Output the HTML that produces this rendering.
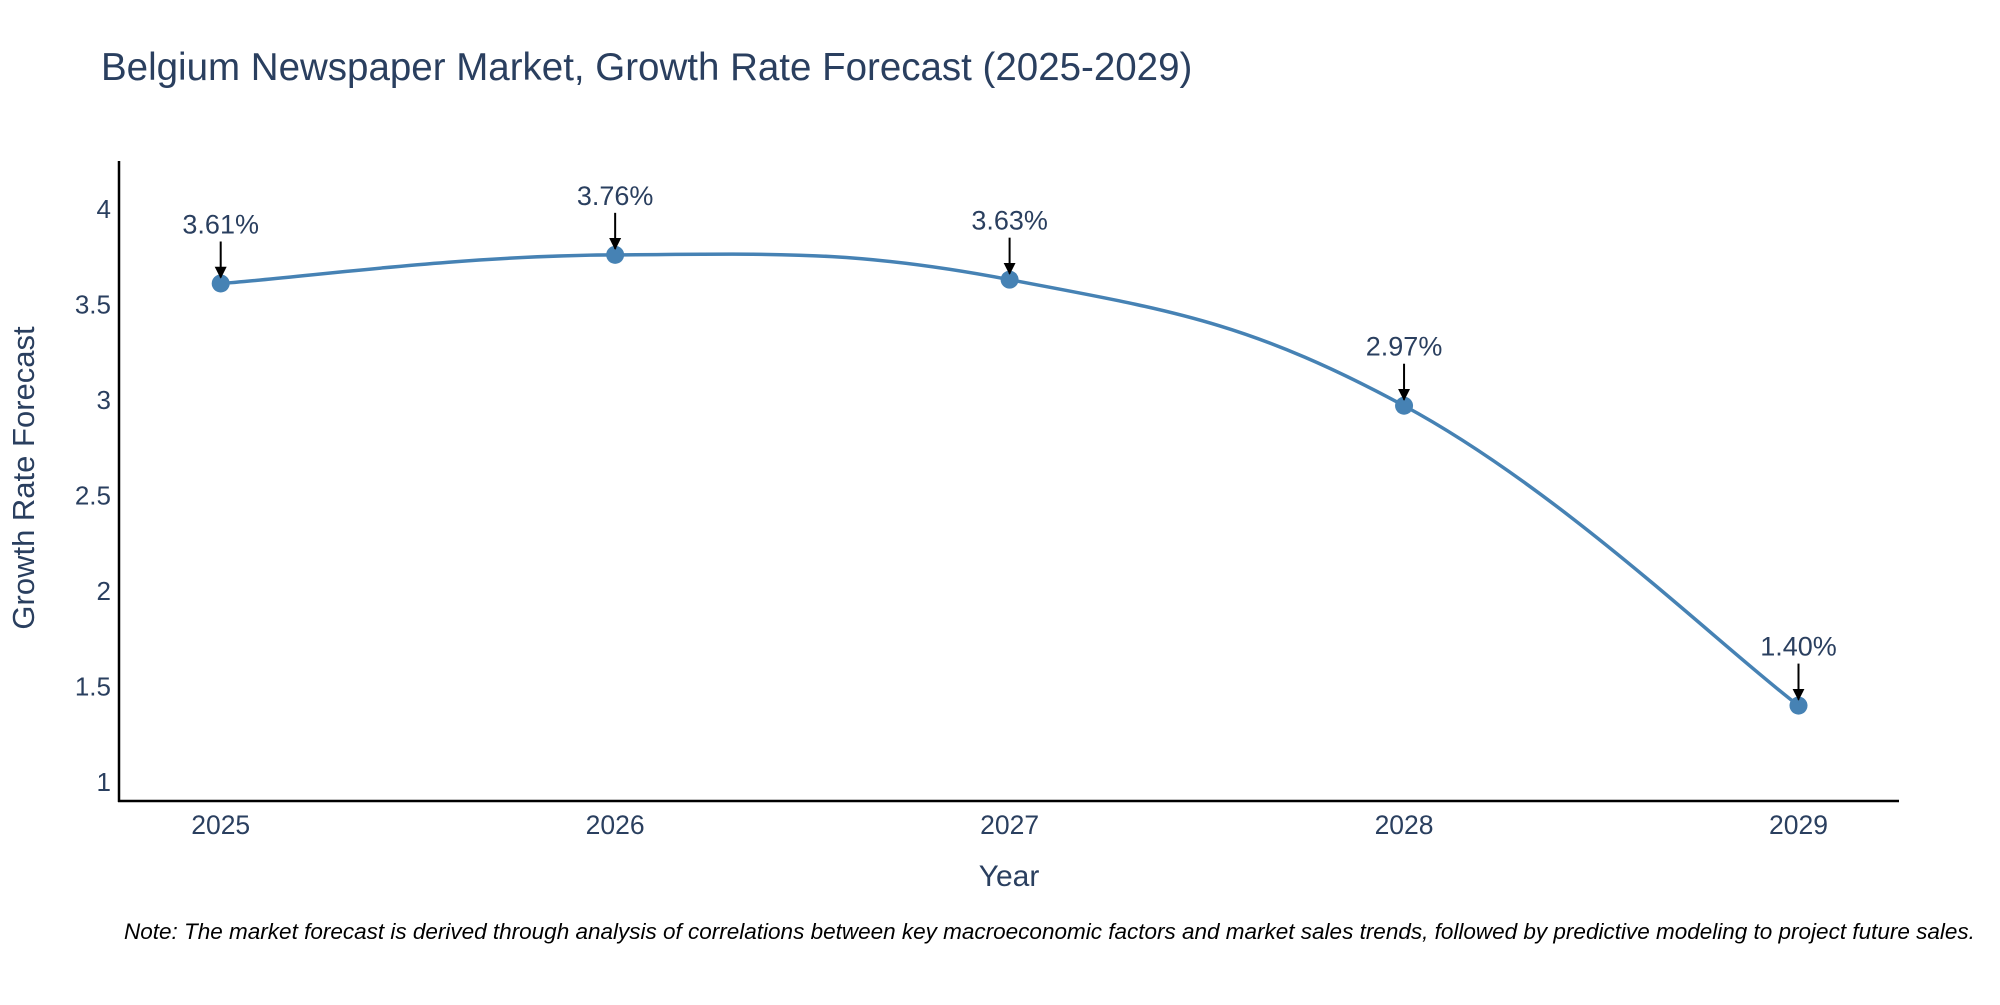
<!DOCTYPE html>
<html><head><meta charset="utf-8"><style>
body{margin:0;background:#fff;overflow:hidden}
svg text{font-family:"Liberation Sans",sans-serif}
</style></head><body>
<svg id="chart" width="2000" height="1000" xmlns="http://www.w3.org/2000/svg">
<defs><marker id="ah" viewBox="0 0 10 10" refX="9" refY="5" markerWidth="6" markerHeight="7" orient="auto"><path d="M0,0 L10,5 L0,10 z" fill="#000"/></marker></defs>
<text x="101" y="80" font-size="38.5" fill="#2a3f5f">Belgium Newspaper Market, Growth Rate Forecast (2025-2029)</text>
<g id="yticks"></g><g id="xticks"></g>
<line x1="119" y1="161" x2="119" y2="802" stroke="#000" stroke-width="2.5"/>
<line x1="118" y1="801" x2="1899" y2="801" stroke="#000" stroke-width="2.5"/>
<text x="34" y="478" font-size="31" fill="#2a3f5f" text-anchor="middle" transform="rotate(-90 34 478)">Growth Rate Forecast</text>
<text x="1009" y="886" font-size="30" fill="#2a3f5f" text-anchor="middle">Year</text>
<g id="series"></g>
<text x="124" y="939" font-size="22.5" font-style="italic" fill="#000">Note: The market forecast is derived through analysis of correlations between key macroeconomic factors and market sales trends, followed by predictive modeling to project future sales.</text>
</svg>
<script>
const years=["2025","2026","2027","2028","2029"];
const values=[3.61,3.76,3.63,2.97,1.40];
const labels=["3.61%","3.76%","3.63%","2.97%","1.40%"];
const yTicks=[1,1.5,2,2.5,3,3.5,4];
const yTickLabels=["1","1.5","2","2.5","3","3.5","4"];
const NS="http://www.w3.org/2000/svg";
function xs(i){return 220.7+i*(1798.5-220.7)/(years.length-1);}
function ys(v){return 782-(v-1)*(782-209)/3;}
function mk(t,a,p){const e=document.createElementNS(NS,t);for(const k in a)e.setAttribute(k,a[k]);p.appendChild(e);return e;}
const yt=document.getElementById('yticks');
yTicks.forEach((v,i)=>{const t=mk('text',{x:111,y:ys(v)+9,'font-size':26,fill:'#2a3f5f','text-anchor':'end'},yt);t.textContent=yTickLabels[i];

});
const xt=document.getElementById('xticks');
years.forEach((y,i)=>{const t=mk('text',{x:xs(i),y:834,'font-size':26.5,fill:'#2a3f5f','text-anchor':'middle'},xt);t.textContent=y;

});
const g=document.getElementById('series');
const P=values.map((v,i)=>[xs(i),ys(v)]);
let d='M'+P[0][0]+','+P[0][1];
const s=0.2;
for(let i=0;i<P.length-1;i++){const p0=P[Math.max(0,i-1)],p1=P[i],p2=P[i+1],p3=P[Math.min(P.length-1,i+2)];
const c1=[p1[0]+(p2[0]-p0[0])*s,p1[1]+(p2[1]-p0[1])*s],c2=[p2[0]-(p3[0]-p1[0])*s,p2[1]-(p3[1]-p1[1])*s];
d+=' C'+c1+' '+c2+' '+p2;}
const line=mk('path',{d:d,fill:'none',stroke:'#4682b4','stroke-width':3.5},g);


P.forEach((p,i)=>{const c=mk('circle',{cx:p[0],cy:p[1],r:9,fill:'#4682b4'},g);


const a=mk('line',{x1:p[0],y1:p[1]-42,x2:p[0],y2:p[1]-6,stroke:'#000','stroke-width':2,'marker-end':'url(#ah)'},g);


const t=mk('text',{x:p[0],y:p[1]-50,'font-size':27,fill:'#2a3f5f','text-anchor':'middle'},g);t.textContent=labels[i];

});
</script>
</body></html>
